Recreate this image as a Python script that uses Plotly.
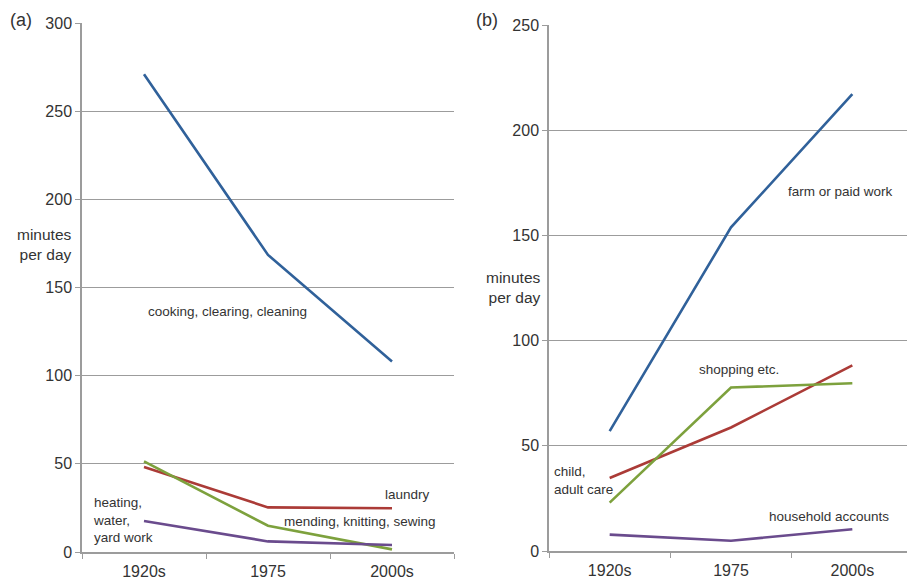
import plotly.graph_objects as go

categories = ["1920s", "1975", "2000s"]

# Panel (a)
a_cooking = [271, 168.5, 108]
a_laundry = [48.2, 25.3, 24.8]
a_mending = [51.4, 14.9, 1.5]
a_heating = [17.6, 6.0, 4.0]

# Panel (b)
b_farm = [57, 153.8, 217.2]
b_care = [34.7, 58.7, 88.2]
b_shopping = [23, 77.7, 79.7]
b_accounts = [7.8, 4.9, 10.3]

a_ticks = [0, 50, 100, 150, 200, 250, 300]
b_ticks = [0, 50, 100, 150, 200, 250]

BLUE = "#30619A"
RED = "#AB3B37"
GREEN = "#7DA13D"
PURPLE = "#6A4B8D"
TXT = "#333333"
GRID = "#9c9c9c"
FONT = "Liberation Sans, Arial, sans-serif"

# page body has an 8px margin; size the figure to the visible area
OFF = 8
W, H = 915 - OFF, 579 - OFF

def px(x):
    return (x - OFF) / W

def py(y):
    return 1 - (y - OFF) / H

fig = go.Figure()
for ys, c in [(a_cooking, BLUE), (a_laundry, RED), (a_mending, GREEN), (a_heating, PURPLE)]:
    fig.add_trace(go.Scatter(x=categories, y=ys, mode="lines", line=dict(color=c, width=2.6),
                             xaxis="x", yaxis="y", showlegend=False))
for ys, c in [(b_farm, BLUE), (b_care, RED), (b_shopping, GREEN), (b_accounts, PURPLE)]:
    fig.add_trace(go.Scatter(x=categories, y=ys, mode="lines", line=dict(color=c, width=2.6),
                             xaxis="x2", yaxis="y2", showlegend=False))

xcommon = dict(type="category", tickson="boundaries", ticks="outside", ticklen=5, tickcolor=GRID,
               showline=True, linecolor=GRID, linewidth=1.5, showgrid=False, zeroline=False,
               tickfont=dict(size=16, color=TXT, family=FONT), range=[-0.5, 2.5], fixedrange=True,
               automargin=False, ticklabelstandoff=4)
ycommon = dict(ticks="outside", ticklen=5, tickcolor=GRID, showline=True, linecolor=GRID, linewidth=1.5,
               showgrid=True, gridcolor=GRID, gridwidth=1.2, zeroline=False,
               tickfont=dict(size=16, color=TXT, family=FONT), fixedrange=True, automargin=False)

fig.update_layout(
    width=W, height=H,
    margin=dict(l=0, r=0, t=0, b=0, pad=0),
    paper_bgcolor="white", plot_bgcolor="white",
    font=dict(family=FONT, color=TXT),
    xaxis=dict(domain=[px(82), px(454)], anchor="y", **xcommon),
    yaxis=dict(domain=[py(552), py(23)], anchor="x", range=[0, 300], tickvals=a_ticks, **ycommon),
    xaxis2=dict(domain=[px(549), min(1.0, px(913))], anchor="y2", **xcommon),
    yaxis2=dict(domain=[py(551), py(25)], anchor="x2", range=[0, 250], tickvals=b_ticks, **ycommon),
)

def ann(text, x, y, xanchor="center", size=13.5, align="center", yanchor="middle"):
    fig.add_annotation(text=text, x=px(x), y=py(y), xref="paper", yref="paper",
                       xanchor=xanchor, yanchor=yanchor, showarrow=False, align=align,
                       font=dict(size=size, color=TXT, family=FONT))

ann("(a)", 8, 8, xanchor="left", size=18, yanchor="top")
ann("(b)", 474, 8, xanchor="left", size=18, yanchor="top")
ann("minutes<br>per day", 74, 244, xanchor="right", size=15.5, align="right")
ann("minutes<br>per day", 543, 288, xanchor="right", size=15.5, align="right")

ann("cooking, clearing, cleaning", 227, 311)
ann("laundry", 407, 494)
ann("mending, knitting, sewing", 360, 521)
ann("heating,<br>water,<br>yard work", 91, 520, xanchor="left", align="left")

ann("farm or paid work", 840, 192)
ann("shopping etc.", 739, 369)
ann("child,<br>adult care", 552, 480, xanchor="left", align="left")
ann("household accounts", 829, 516)

fig.write_html("out.html")
